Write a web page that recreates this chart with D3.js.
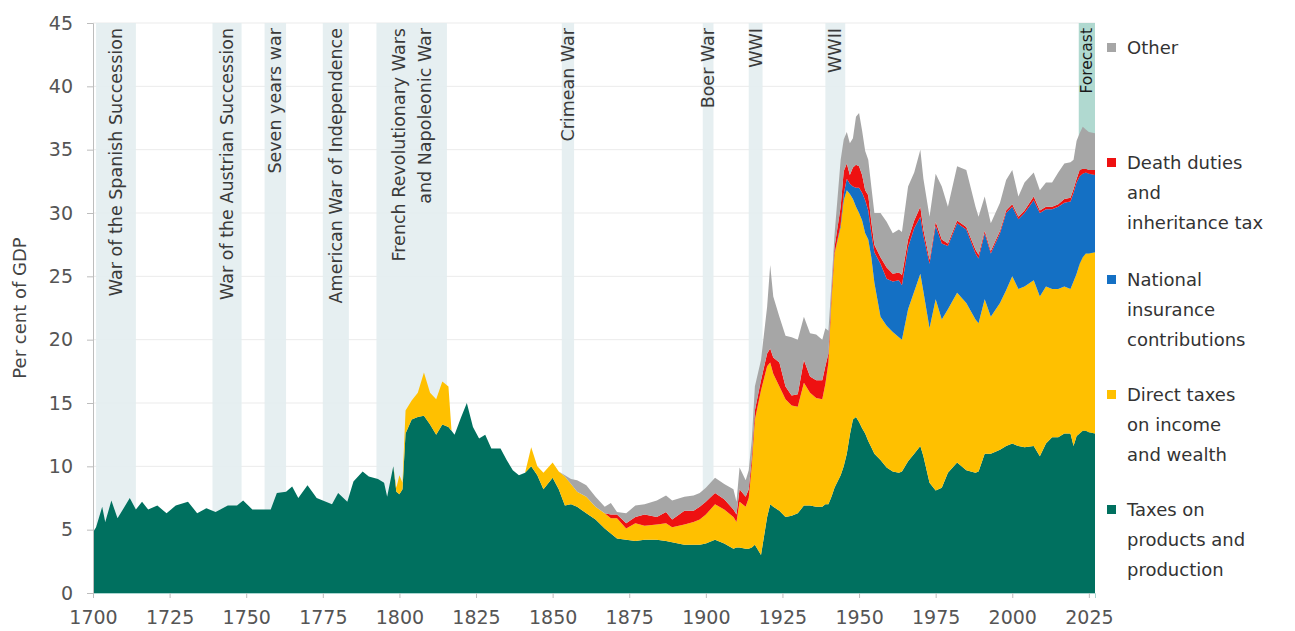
<!DOCTYPE html>
<html><head><meta charset="utf-8">
<script src="https://cdn.jsdelivr.net/npm/d3@7"></script>
<style>
body{margin:0;background:#fff}
svg{display:block}
text{font-family:'DejaVu Sans',sans-serif}
</style>
</head><body>
<svg id="c" width="1295" height="631"></svg>
<script>
const years = [1700,1701,1703,1704,1706,1708,1710,1712,1714,1716,
 1718,1721,1724,1727,1731,1734,1737,1740,1744,1747,
 1749,1752,1755,1758,1760,1763,1765,1767,1770,1773,
 1776,1778,1780,1783,1785,1788,1790,1793,1795,1796,
 1798,1799,1800,1801,1802,1804,1806,1808,1810,1812,
 1814,1816,1817,1818,1820,1822,1824,1826,1828,1830,
 1833,1835,1837,1839,1841,1843,1845,1847,1850,1852,
 1854,1856,1858,1861,1864,1867,1869,1871,1874,1877,
 1880,1884,1887,1889,1893,1896,1898,1900,1903,1906,
 1909,1910,1911,1913,1914,1915,1916,1918,1920,1921,
 1922,1924,1926,1928,1930,1932,1934,1936,1938,1939,
 1940,1941,1942,1944,1945,1946,1947,1948,1949,1950,
 1951,1952,1953,1954,1955,1957,1959,1961,1963,1964,
 1966,1968,1970,1971,1973,1975,1977,1979,1982,1985,
 1988,1989,1991,1993,1996,1998,2000,2002,2004,2007,
 2009,2011,2013,2015,2017,2019,2020,2021,2022,2023,
 2024,2025,2027];

const productTaxes = [4.8,5.2,6.8,5.6,7.3,5.9,6.7,7.5,6.6,7.2,
 6.6,6.9,6.3,6.9,7.2,6.3,6.7,6.4,6.9,6.9,
 7.3,6.6,6.6,6.6,7.9,8.0,8.4,7.5,8.5,7.5,
 7.2,7.0,7.9,7.2,8.8,9.6,9.2,9.0,8.7,7.6,
 10.0,8.0,7.8,8.2,12.6,13.7,13.9,14.0,13.3,12.5,
 13.3,13.1,12.8,12.5,13.8,15.0,13.1,12.2,12.5,11.4,
 11.4,10.5,9.7,9.3,9.5,10.0,9.3,8.2,9.1,8.2,
 6.9,7.0,6.8,6.3,5.8,5.1,4.7,4.3,4.2,4.1,
 4.2,4.2,4.1,4.0,3.8,3.8,3.8,3.9,4.2,3.9,
 3.5,3.6,3.6,3.5,3.5,3.6,3.8,3.0,6.0,7.0,
 6.8,6.5,6.0,6.1,6.3,6.9,6.9,6.8,6.8,7.0,
 7.0,7.6,8.3,9.3,10.0,11.0,12.5,13.7,13.9,13.5,
 13.0,12.6,12.0,11.5,11.0,10.5,9.9,9.6,9.5,9.6,
 10.4,11.0,11.6,10.8,8.7,8.1,8.3,9.5,10.3,9.7,
 9.5,9.6,11.0,11.0,11.3,11.6,11.8,11.6,11.5,11.6,
 10.8,11.8,12.3,12.3,12.6,12.6,11.6,12.4,12.6,12.8,
 12.8,12.7,12.6];

const directTaxes = [0,0,0,0,0,0,0,0,0,0,
 0,0,0,0,0,0,0,0,0,0,
 0,0,0,0,0,0,0,0,0,0,
 0,0,0,0,0,0,0,0,0,0,
 0,0.3,1.5,0.5,1.8,1.5,1.9,3.4,2.5,2.8,
 3.4,3.2,0,0,0,0,0,0,0,0,
 0,0,0,0,0,1.5,0.7,1.3,1.2,1.4,
 2.3,1.6,1.2,1.3,1.0,1.2,1.2,1.6,0.9,1.4,
 1.1,1.2,1.4,1.2,1.6,1.8,2.0,2.3,2.8,2.7,
 2.5,2.0,3.6,3.3,4.0,6.5,9.9,13.0,11.9,11.2,
 10.5,9.8,9.3,8.7,8.4,9.7,8.9,8.6,8.5,9.5,
 11.2,15.5,18.5,19.6,21.0,20.8,19.0,17.4,16.6,16.5,
 16.4,15.8,15.9,15.0,13.5,11.3,11.2,11.0,10.7,10.4,
 12.0,12.8,13.6,13.0,12.2,15.1,13.3,12.9,13.4,13.2,
 12.1,11.7,12.2,10.8,11.6,12.3,13.2,12.4,12.7,13.1,
 12.6,12.4,11.7,11.7,11.6,11.4,13.0,12.8,13.4,13.7,
 14.0,14.1,14.3];

const nationalInsurance = [0,0,0,0,0,0,0,0,0,0,
 0,0,0,0,0,0,0,0,0,0,
 0,0,0,0,0,0,0,0,0,0,
 0,0,0,0,0,0,0,0,0,0,
 0,0,0,0,0,0,0,0,0,0,
 0,0,0,0,0,0,0,0,0,0,
 0,0,0,0,0,0,0,0,0,0,
 0,0,0,0,0,0,0,0,0,0,
 0,0,0,0,0,0,0,0,0,0,
 0,0,0,0,0,0,0,0,0,0,
 0,0,0,0,0,0,0,0,0,0,
 0,0,0,0.2,0.5,0.9,0.8,1.0,1.5,2.0,
 2.2,2.6,2.3,1.9,2.4,4.2,3.7,4.0,4.5,4.3,
 4.9,5.0,4.5,4.4,5.1,5.8,6.0,5.0,5.5,5.8,
 5.2,5.1,5.2,5.0,5.5,6.1,5.5,5.5,5.8,6.3,
 6.6,6.1,6.3,6.5,6.6,6.9,7.0,7.2,6.9,6.6,
 6.4,6.3,6.1];

const deathDuties = [0,0,0,0,0,0,0,0,0,0,
 0,0,0,0,0,0,0,0,0,0,
 0,0,0,0,0,0,0,0,0,0,
 0,0,0,0,0,0,0,0,0,0,
 0,0,0,0,0,0,0,0,0,0,
 0,0,0,0,0,0,0,0,0,0,
 0,0,0,0,0,0,0,0,0,0,
 0,0,0,0,0,0,0.3,0.3,0.4,0.5,
 0.9,0.6,0.9,0.6,1.1,0.9,1.0,1.0,0.9,0.8,
 0.6,0.6,1.0,0.8,0.7,0.6,0.7,0.8,1.0,1.1,
 1.3,1.9,1.0,0.8,1.0,1.8,1.3,1.4,1.5,1.4,
 0.7,0.5,0.5,1.4,1.8,1.2,0.7,1.5,1.8,1.7,
 1.4,0.8,1.2,0.9,0.6,0.5,0.9,0.6,0.6,0.8,
 0.6,0.6,0.8,0.5,0.3,0.3,0.3,0.2,0.2,0.2,
 0.3,0.3,0.2,0.2,0.2,0.2,0.2,0.2,0.2,0.3,
 0.2,0.2,0.2,0.2,0.3,0.3,0.3,0.3,0.5,0.4,
 0.3,0.3,0.4];

const otherTaxes = [0,0,0,0,0,0,0,0,0,0,
 0,0,0,0,0,0,0,0,0,0,
 0,0,0,0,0,0,0,0,0,0,
 0,0,0,0,0,0,0,0,0,0,
 0,0,0,0,0,0,0,0,0,0,
 0,0,0,0,0,0,0,0,0,0,
 0,0,0,0,0,0,0,0,0,0,
 0.1,0.4,0.9,0.9,0.8,0.5,0.9,0.2,0.8,0.9,
 0.8,1.3,1.3,1.5,1.1,1.2,1.1,1.1,1.2,1.2,
 1.6,1.0,1.7,1.3,1.5,1.4,1.9,1.6,3.7,6.6,
 4.8,3.6,4.0,4.6,4.3,3.4,3.4,3.6,3.2,3.0,
 1.8,0.8,1.0,3.7,2.5,2.5,2.5,2.3,3.8,4.2,
 3.5,3.1,2.8,2.8,2.5,3.5,3.6,3.2,3.4,3.4,
 4.2,3.8,4.5,4.0,3.4,3.8,4.2,2.9,4.3,4.5,
 3.4,3.0,2.7,2.2,2.2,2.4,2.7,1.6,2.2,1.9,
 1.6,1.9,1.9,2.5,2.8,2.8,2.3,3.0,2.9,3.3,
 3.1,3.0,2.9];

const seriesKeys = ["products","direct","nics","death","other"];
const seriesValues = [productTaxes, directTaxes, nationalInsurance, deathDuties, otherTaxes];
const seriesColors = ["#00705f","#ffc000","#1470c4","#ee1111","#a6a6a6"];
const legendLabels = [
  ["Other"],
  ["Death duties","and","inheritance tax"],
  ["National","insurance","contributions"],
  ["Direct taxes","on income","and wealth"],
  ["Taxes on","products and","production"]
];
const legendKeys = ["other","death","nics","direct","products"];

const periodNames = [
  ["War of the Spanish Succession"],
  ["War of the Austrian Succession"],
  ["Seven years war"],
  ["American War of Independence"],
  ["French Revolutionary Wars","and  Napoleonic War"],
  ["Crimean War"],
  ["Boer War"],
  ["WWI"],
  ["WWII"],
  ["Forecast"]
];
const periodStart = [1701,1739,1756,1775,1792.5,1853,1899,1914,1939,2021.7];
const periodEnd   = [1714,1748.5,1763,1783.5,1815.5,1857,1902.5,1918.5,1945.5,2027];

const yTicks = [0,5,10,15,20,25,30,35,40,45];
const xTicks = [1700,1725,1750,1775,1800,1825,1850,1875,1900,1925,1950,1975,2000,2025];

const svg = d3.select("#c");
const x = d3.scaleLinear().domain([1700,2027]).range([93,1095]);
const y = d3.scaleLinear().domain([0,45]).range([593,23]);

// gridlines
svg.append("g").selectAll("line").data(yTicks.filter(v=>v>0)).join("line")
  .attr("x1",x(1700)).attr("x2",x(2027))
  .attr("y1",d=>y(d)).attr("y2",d=>y(d))
  .attr("stroke","#ebebeb").attr("stroke-width",1);

// period bands
const periods = periodNames.map((n,i)=>({lines:n,s:periodStart[i],e:periodEnd[i],forecast:n[0]==="Forecast"}));
svg.append("g").selectAll("rect").data(periods).join("rect")
  .attr("x",d=>x(d.s)).attr("width",d=>x(d.e)-x(d.s))
  .attr("y",y(45)).attr("height",y(0)-y(45))
  .attr("fill",d=>d.forecast?"#a7d5cb":"#e3edef")
  .attr("opacity",0.9);

// stacked areas
const rows = years.map((yr,i)=>{
  const r = {year:yr};
  seriesKeys.forEach((k,j)=>r[k]=seriesValues[j][i]);
  return r;
});
const stack = d3.stack().keys(seriesKeys);
const layers = stack(rows);
const area = d3.area().x(d=>x(d.data.year)).y0(d=>y(d[0])).y1(d=>y(d[1]));
svg.append("g").selectAll("path").data(layers).join("path")
  .attr("d",area)
  .attr("fill",(d,i)=>seriesColors[i]);

// period labels
const lab = svg.append("g");
periods.forEach(p=>{
  const cx = (x(p.s)+x(p.e))/2;
  const n = p.lines.length;
  p.lines.forEach((t,i)=>{
    const ox = cx + (i-(n-1)/2)*26;
    lab.append("text")
      .attr("transform",`translate(${ox},28) rotate(-90)`)
      .attr("text-anchor","end")
      .attr("dy","0.35em")
      .attr("font-size",p.forecast?15.5:17.5)
      .attr("fill",p.forecast?"#1a1a1a":"#3a3a3a")
      .text(t);
  });
});

// axes
const yAxis = svg.append("g").attr("transform",`translate(${x(1700)},0)`)
  .call(d3.axisLeft(y).tickValues(yTicks).tickSize(6).tickPadding(14));
yAxis.select(".domain").attr("stroke","#bdbdbd");
yAxis.selectAll(".tick line").attr("stroke","#bdbdbd");
yAxis.selectAll("text").attr("font-size",19).attr("fill","#555").attr("font-family","'DejaVu Sans',sans-serif");

const xAxis = svg.append("g").attr("transform",`translate(0,${y(0)})`)
  .call(d3.axisBottom(x).tickValues(xTicks).tickFormat(d3.format("d")).tickSize(5).tickPadding(13));
xAxis.select(".domain").attr("stroke","#a9d6d0");
xAxis.selectAll(".tick line").attr("stroke","#bdbdbd");
xAxis.selectAll("text").attr("font-size",19).attr("fill","#555").attr("font-family","'DejaVu Sans',sans-serif");

svg.append("text")
  .attr("transform",`translate(20,${(y(0)+y(45))/2}) rotate(-90)`)
  .attr("text-anchor","middle").attr("dy","0.35em")
  .attr("font-size",18).attr("fill","#444")
  .text("Per cent of GDP");

// legend
const legendY = [48,163,280,395,510];
const lg = svg.append("g");
legendKeys.forEach((k,i)=>{
  const color = seriesColors[seriesKeys.indexOf(k)];
  lg.append("rect").attr("x",1107).attr("y",legendY[i]-5).attr("width",9).attr("height",9).attr("fill",color);
  legendLabels[i].forEach((t,j)=>{
    lg.append("text").attr("x",1127).attr("y",legendY[i]+j*29.7).attr("dy","0.35em")
      .attr("font-size",18).attr("fill","#333").text(t);
  });
});
</script>
</body></html>
